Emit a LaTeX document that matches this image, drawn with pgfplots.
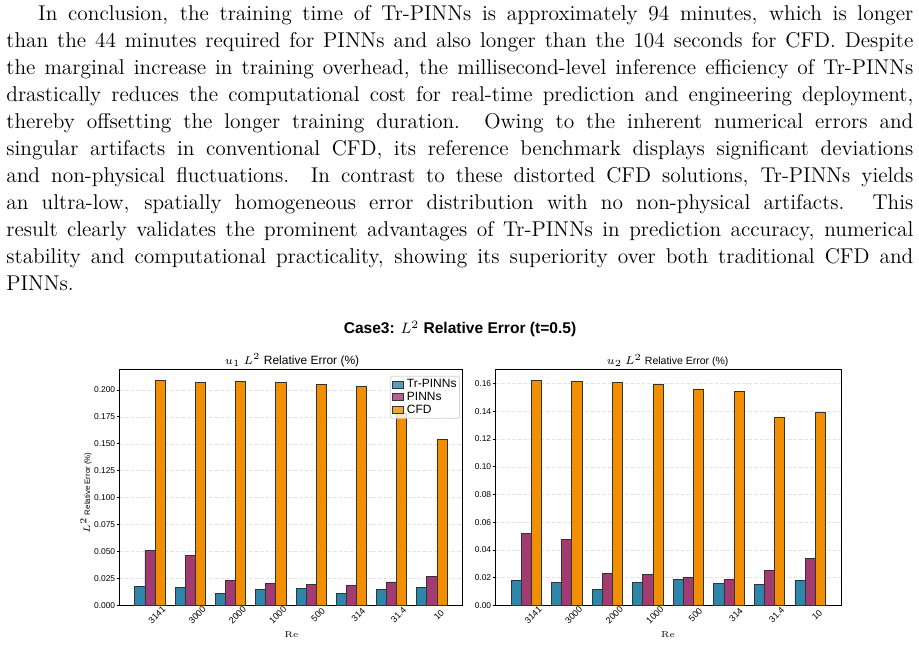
\documentclass[border=0pt]{standalone}
\usepackage{fontspec}
\usepackage{pgfplots}
\usepackage{pgfplotstable}
\pgfplotsset{compat=1.18}
\newfontfamily\chartfont{Liberation Sans}

\definecolor{trpinns}{HTML}{2E86AB}
\definecolor{pinns}{HTML}{A23B72}
\definecolor{cfd}{HTML}{F18F01}

\newcommand\tickfont{\chartfont\fontsize{4.5}{5.3}\selectfont}
\newcommand\xtickfont{\chartfont\fontsize{4.8}{5.6}\selectfont}
\newcommand\legfont{\chartfont\fontsize{6.4}{7.2}\selectfont}
\newcommand\subfont{\chartfont\fontsize{6.4}{7.5}\selectfont}
\newcommand\subfontb{\chartfont\fontsize{5.6}{6.6}\selectfont}
\newcommand\supfont{\chartfont\bfseries\fontsize{8.3}{10}\selectfont}
\newcommand\labfont{\chartfont\fontsize{4.6}{5.4}\selectfont}
\newcommand\ylabfont{\chartfont\fontsize{4.2}{5}\selectfont}

% u1 error per Reynolds number (x = category index)
\pgfplotstableread{
x  tr      pinn    cfd
0  0.0179  0.0511  0.2090
1  0.0167  0.0467  0.2071
2  0.0111  0.0229  0.2081
3  0.0149  0.0201  0.2071
4  0.0158  0.0195  0.2053
5  0.0114  0.0186  0.2034
6  0.0149  0.0217  0.1784
7  0.0167  0.0266  0.1542
}\uone

% u2 error per Reynolds number
\pgfplotstableread{
x  tr      pinn    cfd
0  0.0180  0.0520  0.1622
1  0.0166  0.0476  0.1619
2  0.0116  0.0231  0.1610
3  0.0166  0.0226  0.1591
4  0.0190  0.0204  0.1562
5  0.0156  0.0190  0.1545
6  0.0152  0.0250  0.1357
7  0.0180  0.0339  0.1393
}\utwo

\pgfplotsset{
  errpanel/.style={
    scale only axis,
    height=125.9pt,
    xmin=-0.7625, xmax=7.7625, ymin=0,
    xtick={0,1,2,3,4,5,6,7},
    xticklabels={3141,3000,2000,1000,500,314,31.4,10},
    major x tick style={draw=none},
    ytick style={black, line width=0.4pt},
    xtick pos=bottom, ytick pos=left,
    tick align=outside,
    major tick length=1.4pt,
    tick label style={font=\tickfont},
    yticklabel style={inner sep=0.6pt},
    /pgf/number format/assume math mode=true,
    scaled y ticks=false,
    xticklabel style={font=\xtickfont, anchor=center, xshift=3.7pt, yshift=-3.7pt, rotate=45},
    axis line style={black, line width=0.6pt},
    ymajorgrids,
    grid style={gray!22, dash pattern=on 2pt off 1pt, line width=0.3pt},
    legend image code/.code={\draw[#1, sharp corners] (0pt,-1.85pt) rectangle (5.5pt,1.85pt);},
  },
  errbar/.style={ybar, bar width=0.25, draw=black!80, line width=0.45pt},
}

\begin{document}
\begin{tikzpicture}[x=0.53333pt, y=-0.53333pt]
\path[use as bounding box] (0,0) rectangle (919,669);

% text of the paragraph above the figure
\node[anchor=north west, inner sep=0pt, text width=483.7pt, align=justify,
      font=\fontsize{11.4}{14.4}\selectfont] at (6,4.7) {%
\hspace*{17pt}In conclusion, the training time of Tr-PINNs is approximately 94 minutes, which is longer\linebreak
than the 44 minutes required for PINNs and also longer than the 104 seconds for CFD. Despite\linebreak
the marginal increase in training overhead, the millisecond-level inference efficiency of Tr-PINNs\linebreak
drastically reduces the computational cost for real-time prediction and engineering deployment,\linebreak
thereby offsetting the longer training duration.  Owing to the inherent numerical errors and\linebreak
singular artifacts in conventional CFD, its reference benchmark displays significant deviations\linebreak
and non-physical fluctuations.  In contrast to these distorted CFD solutions, Tr-PINNs yields\linebreak
an ultra-low, spatially homogeneous error distribution with no non-physical artifacts.  This\linebreak
result clearly validates the prominent advantages of Tr-PINNs in prediction accuracy, numerical\linebreak
stability and computational practicality, showing its superiority over both traditional CFD and\linebreak
PINNs.\par};

% figure title
\node[font=\supfont] at (460,329) {Case3: \(L^2\) Relative Error (t=0.5)};

% u1 panel
\begin{axis}[errpanel, at={(63.63pt,-322.83pt)}, anchor=south west,
    width=183.1pt, ymax=0.2192,
    ytick={0,0.025,0.05,0.075,0.1,0.125,0.15,0.175,0.2},
    yticklabel style={/pgf/number format/.cd, fixed, fixed zerofill, precision=3},
    legend cell align=left,
    legend style={at={(0.992,0.972)}, anchor=north east, font=\legfont,
      draw=gray!35, rounded corners=1pt, fill=white, fill opacity=0.8, text opacity=1,
      inner xsep=1.2pt, inner ysep=1pt, row sep=0pt,
      /tikz/every odd column/.append style={column sep=1.4pt},
      nodes={inner sep=0.4pt, text height=4.7pt, text depth=1.3pt}},
  ]
  \addplot[errbar, bar shift=-0.25, fill=trpinns] table[x=x, y=tr] {\uone};
  \addplot[errbar, bar shift=0, fill=pinns] table[x=x, y=pinn] {\uone};
  \addplot[errbar, bar shift=0.25, fill=cfd] table[x=x, y=cfd] {\uone};
  \legend{Tr-PINNs, PINNs, CFD}
\end{axis}

% u2 panel
\begin{axis}[errpanel, at={(264.16pt,-322.83pt)}, anchor=south west,
    width=184.4pt, ymax=0.1704,
    ytick={0,0.02,0.04,0.06,0.08,0.1,0.12,0.14,0.16},
    yticklabel style={/pgf/number format/.cd, fixed, fixed zerofill, precision=2},
  ]
  \addplot[errbar, bar shift=-0.25, fill=trpinns] table[x=x, y=tr] {\utwo};
  \addplot[errbar, bar shift=0, fill=pinns] table[x=x, y=pinn] {\utwo};
  \addplot[errbar, bar shift=0.25, fill=cfd] table[x=x, y=cfd] {\utwo};
\end{axis}

% panel titles and axis labels
\node[font=\subfont] at (292,360.5) {\(u_1\) \(L^2\) Relative Error (\%)};
\node[font=\subfontb] at (667.5,360.5) {\(u_2\) \(L^2\) Relative Error (\%)};
\node[font=\ylabfont, rotate=90] at (86,493) {\(L^2\) Relative Error (\%)};
\node[font=\labfont] at (291.5,635) {\(\mathrm{Re}\)};
\node[font=\labfont] at (668,635) {\(\mathrm{Re}\)};
\end{tikzpicture}
\end{document}
